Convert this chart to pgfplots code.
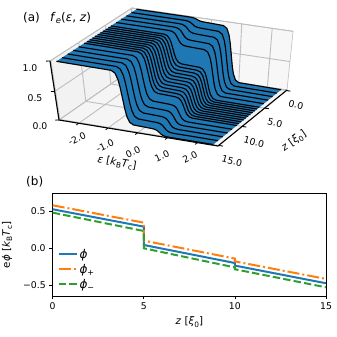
\documentclass[border=0pt]{standalone}
\usepackage{fontspec}
\setmainfont{DejaVu Sans}
\usepackage{pgfplots}
\usepackage{pgfplotstable}
\pgfplotsset{compat=1.18}
\definecolor{mblue}{HTML}{1F77B4}
\definecolor{morange}{HTML}{FF7F0E}
\definecolor{mgreen}{HTML}{2CA02C}
\definecolor{mgrid}{HTML}{BEBEBE}
\newcommand{\tickf}{\fontsize{9.3}{10}\selectfont}
\newcommand{\labf}{\fontsize{10.3}{11}\selectfont}
\newcommand{\subt}[1]{\raisebox{-.22em}{\fontsize{7.4}{8}\selectfont #1}}
\pgfplotstableread{
eps 0 1 2 3 4 5 5.25 5.5 5.75 6 6.25 6.5 6.75 7 7.25 7.5 7.75 8 8.25 8.5 8.75 9 9.25 9.5 9.75 10 11 12 13 14 15
-2.5 1 1 1 1 1 1 1 1 1 1 1 1 1 1 1 1 1 1 1 1 1 1 1 1 1 1 1 1 1 1 1
-0.75 1.000 .999 .999 .998 .998 .995 .995 .995 .995 .995 .995 .995 .995 .995 .995 .994 .994 .994 .994 .994 .994 .994 .994 .994 .994 .993 .993 .992 .992 .992 .991
-0.63 .998 .996 .994 .991 .989 .977 .977 .976 .976 .975 .975 .974 .974 .973 .973 .972 .972 .971 .971 .970 .970 .969 .969 .968 .968 .967 .964 .962 .960 .958 .956
-0.55 .992 .986 .979 .971 .965 .926 .925 .923 .922 .920 .918 .917 .915 .914 .912 .910 .909 .907 .906 .904 .902 .901 .899 .898 .896 .894 .883 .877 .870 .864 .858
-0.50 .985 .973 .961 .946 .934 .862 .859 .856 .853 .850 .847 .844 .841 .838 .835 .832 .829 .826 .823 .820 .817 .814 .811 .808 .805 .802 .781 .769 .757 .745 .733
-0.45 .975 .955 .935 .910 .890 .770 .765 .760 .755 .750 .745 .740 .735 .730 .725 .720 .715 .710 .705 .700 .695 .690 .685 .680 .675 .670 .635 .615 .595 .575 .555
-0.40 .965 .937 .909 .874 .846 .678 .671 .664 .657 .650 .643 .636 .629 .622 .615 .608 .601 .594 .587 .580 .573 .566 .559 .552 .545 .538 .489 .461 .433 .405 .377
-0.35 .958 .924 .891 .849 .815 .614 .605 .597 .588 .580 .572 .563 .555 .546 .538 .530 .521 .513 .504 .496 .488 .479 .471 .462 .454 .446 .387 .353 .320 .286 .252
-0.27 .953 .915 .877 .829 .791 .563 .554 .544 .535 .525 .516 .506 .497 .487 .478 .468 .459 .449 .440 .430 .421 .411 .402 .392 .383 .373 .307 .269 .231 .193 .155
-0.15 .951 .911 .871 .822 .782 .545 .535 .525 .515 .505 .495 .485 .475 .465 .456 .446 .436 .426 .416 .406 .396 .386 .376 .366 .357 .347 .277 .238 .198 .159 .119
0.42 .941 .901 .861 .812 .772 .535 .525 .515 .505 .495 .485 .475 .465 .455 .446 .436 .426 .416 .406 .396 .386 .376 .366 .356 .347 .337 .267 .228 .188 .149 .109
0.54 .903 .865 .827 .779 .741 .513 .504 .494 .485 .475 .466 .456 .447 .437 .428 .418 .409 .399 .390 .380 .371 .361 .352 .342 .333 .323 .257 .219 .181 .143 .105
0.62 .798 .764 .731 .689 .655 .454 .445 .437 .428 .420 .412 .403 .395 .386 .378 .370 .361 .353 .344 .336 .328 .319 .311 .302 .294 .286 .227 .193 .160 .126 .092
0.67 .665 .637 .609 .574 .546 .378 .371 .364 .357 .350 .343 .336 .329 .322 .315 .308 .301 .294 .287 .280 .273 .266 .259 .252 .245 .238 .189 .161 .133 .105 .077
0.72 .475 .455 .435 .410 .390 .270 .265 .260 .255 .250 .245 .240 .235 .230 .225 .220 .215 .210 .205 .200 .195 .190 .185 .180 .175 .170 .135 .115 .095 .075 .055
0.77 .285 .273 .261 .246 .234 .162 .159 .156 .153 .150 .147 .144 .141 .138 .135 .132 .129 .126 .123 .120 .117 .114 .111 .108 .105 .102 .081 .069 .057 .045 .033
0.82 .152 .146 .139 .131 .125 .086 .085 .083 .082 .080 .078 .077 .075 .074 .072 .070 .069 .067 .066 .064 .062 .061 .059 .058 .056 .054 .043 .037 .030 .024 .018
0.90 .048 .046 .044 .041 .039 .027 .027 .026 .026 .025 .025 .024 .024 .023 .023 .022 .022 .021 .021 .020 .020 .019 .019 .018 .018 .017 .014 .012 .010 .008 .006
1.02 .010 .009 .009 .008 .008 .005 .005 .005 .005 .005 .005 .005 .005 .005 .005 .005 .004 .004 .004 .004 .004 .004 .004 .004 .004 .004 .003 .003 .002 .002 .001
2.5 0 0 0 0 0 0 0 0 0 0 0 0 0 0 0 0 0 0 0 0 0 0 0 0 0 0 0 0 0 0 0
}\fcurves
\pgfplotstableread{
e z f
-2.5 0 1
-0.75 0 1.000
-0.63 0 .998
-0.55 0 .992
-0.50 0 .985
-0.45 0 .975
-0.40 0 .965
-0.35 0 .958
-0.27 0 .953
-0.15 0 .951
0.42 0 .941
0.54 0 .903
0.62 0 .798
0.67 0 .665
0.72 0 .475
0.77 0 .285
0.82 0 .152
0.90 0 .048
1.02 0 .010
2.5 0 0
2.5 15 0
1.02 15 .001
0.90 15 .006
0.82 15 .018
0.77 15 .033
0.72 15 .055
0.67 15 .077
0.62 15 .092
0.54 15 .105
0.42 15 .109
-0.15 15 .119
-0.27 15 .155
-0.35 15 .252
-0.40 15 .377
-0.45 15 .555
-0.50 15 .733
-0.55 15 .858
-0.63 15 .956
-0.75 15 .991
-2.5 15 1
}\fsheet
\pgfplotsset{
  /pgfplots/table/pj/.style={
    x expr={px(\thisrow{e},\thisrow{z},\thisrow{f})},
    y expr={py(\thisrow{e},\thisrow{z},\thisrow{f})},
    row sep=\\},
  gridl/.style={mgrid,line width=.9pt,forget plot},
  tickl/.style={black,line width=.9pt,forget plot},
}
\begin{document}
\begin{tikzpicture}[x=1pt,y=1pt]
\path[use as bounding box] (0,0) rectangle (337,337);
\begin{axis}[
  at={(0,0)},anchor=south west,scale only axis,width=337pt,height=337pt,
  xmin=0,xmax=337,ymin=0,ymax=337,y dir=reverse,axis lines=none,clip=false,
  declare function={
    uu(\e)=(\e+2.68)/5.36;
    vv(\z)=(15.15-\z)/15.3;
    dd(\u,\v,\w)=1-.0238*\u+.0611*\v-.063*\w;
    px(\e,\z,\f)=(59+153.81*uu(\e)+84.89*vv(\z)-12.15*\f)/dd(uu(\e),vv(\z),\f);
    py(\e,\z,\f)=(120+22.53*uu(\e)-49.17*vv(\z)-62.84*\f)/dd(uu(\e),vv(\z),\f);
  }]
% panes
\addplot[fill=black!4,draw=mgrid,line width=.6pt,forget plot] table[pj]{e z f\\ -2.68 -.15 0\\ 2.68 -.15 0\\ 2.68 15.15 0\\ -2.68 15.15 0\\ -2.68 -.15 0\\};
\addplot[fill=black!5,draw=mgrid,line width=.6pt,forget plot] table[pj]{e z f\\ -2.68 15.15 0\\ -2.68 -.15 0\\ -2.68 -.15 1\\ -2.68 15.15 1\\ -2.68 15.15 0\\};
\addplot[fill=black!3,draw=mgrid,line width=.6pt,forget plot] table[pj]{e z f\\ -2.68 -.15 0\\ 2.68 -.15 0\\ 2.68 -.15 1\\ -2.68 -.15 1\\ -2.68 -.15 0\\};
% grid
\pgfplotsinvokeforeach{-2,-1,0,1,2}{
  \addplot[gridl] table[pj]{e z f\\ #1 15.15 0\\ #1 -.15 0\\ #1 -.15 1\\};
  \addplot[tickl] table[pj]{e z f\\ #1 15.15 0\\ #1 15.6 0\\};
}
\pgfplotsinvokeforeach{0,5,10,15}{
  \addplot[gridl] table[pj]{e z f\\ 2.68 #1 0\\ -2.68 #1 0\\ -2.68 #1 1\\};
  \addplot[tickl] table[pj]{e z f\\ 2.68 #1 0\\ 2.82 #1 0\\};
}
\pgfplotsinvokeforeach{0,.5,1}{
  \addplot[gridl] table[pj]{e z f\\ -2.68 15.15 #1\\ -2.68 -.15 #1\\ 2.68 -.15 #1\\};
  \addplot[tickl] table[pj]{e z f\\ -2.68 15.15 #1\\ -2.78 15.3 #1\\};
}
% axis lines
\addplot[black,line width=1.1pt,forget plot] table[pj]{e z f\\ -2.68 15.15 1\\ -2.68 15.15 0\\ 2.68 15.15 0\\ 2.68 -.15 0\\};
% surface
\addplot[fill=mblue,draw=none,forget plot] table[x expr={px(\thisrow{e},\thisrow{z},\thisrow{f})},y expr={py(\thisrow{e},\thisrow{z},\thisrow{f})}]{\fsheet} -- cycle;
% constant-z curves
\pgfplotsinvokeforeach{0,1,2,3,4,5,5.5,6,6.5,7,7.5,8,8.5,9,9.5,10,11,12,13,14,15}{
  \addplot[black,line width=1.15pt,line join=round,forget plot] table[x expr={px(\thisrow{eps},#1,\thisrow{#1})},y expr={py(\thisrow{eps},#1,\thisrow{#1})}]{\fcurves};
}
% labels of panel (a)
\node[font=\fontsize{12}{13}\selectfont,anchor=west,inner sep=0pt] at (axis cs:23,18) {(a)};
\node[font=\fontsize{12}{13}\selectfont,anchor=west,inner sep=0pt] at (axis cs:50,18) {\textit{f}\raisebox{-.2em}{\fontsize{8.5}{9}\selectfont\textit{e}}(\textit{ε}, \textit{z})};
\node[font=\tickf,inner sep=0pt] at (axis cs:30,68) {1.0};
\node[font=\tickf,inner sep=0pt] at (axis cs:35,98) {0.5};
\node[font=\tickf,inner sep=0pt] at (axis cs:40,126) {0.0};
\node[font=\tickf,rotate=25,inner sep=0pt] at (axis cs:77,139) {-2.0};
\node[font=\tickf,rotate=25,inner sep=0pt] at (axis cs:105,146) {-1.0};
\node[font=\tickf,rotate=25,inner sep=0pt] at (axis cs:133,152) {0.0};
\node[font=\tickf,rotate=25,inner sep=0pt] at (axis cs:162,156) {1.0};
\node[font=\tickf,rotate=25,inner sep=0pt] at (axis cs:190,157) {2.0};
\node[font=\tickf,rotate=-15,inner sep=0pt] at (axis cs:296,105) {0.0};
\node[font=\tickf,rotate=-15,inner sep=0pt] at (axis cs:275,123) {5.0};
\node[font=\tickf,rotate=-15,inner sep=0pt] at (axis cs:254,142) {10.0};
\node[font=\tickf,rotate=-15,inner sep=0pt] at (axis cs:232,161) {15.0};
\node[font=\labf,rotate=-10,inner sep=0pt] at (axis cs:117,163) {\textit{ε} [\textit{k}\subt{B}\textit{T}\subt{c}]};
\node[font=\labf,rotate=35,inner sep=0pt] at (axis cs:294,141) {\textit{z} [\textit{ξ}\subt{0}]};
\node[font=\fontsize{12}{13}\selectfont,anchor=west,inner sep=0pt] at (axis cs:26,182) {(b)};
\end{axis}
\begin{axis}[
  at={(52.7pt,41pt)},anchor=south west,scale only axis,width=273.3pt,height=102.7pt,
  xmin=0,xmax=15,ymin=-0.648,ymax=0.747,
  xtick={0,5,10,15},xticklabels={0,5,10,15},
  ytick={-0.5,0,0.5},yticklabels={−0.5,0.0,0.5},
  tick align=outside,tick style={black,line width=.8pt},major tick length=3.5pt,
  xtick pos=bottom,ytick pos=left,
  axis line style={line width=.8pt},
  tick label style={font=\tickf},
  xlabel={\textit{z} [\textit{ξ}\subt{0}]},
  ylabel={e\textit{ϕ} [\textit{k}\subt{B}\textit{T}\subt{c}]},
  label style={font=\labf},
  xlabel style={at={(axis description cs:0.5,-0.17)},anchor=north},
  ylabel style={at={(axis description cs:-0.135,0.5)},anchor=south},
  legend style={draw=none,fill=none,at={(0.006,0.02)},anchor=south west,font=\fontsize{12}{13}\selectfont,row sep=.5pt},
  legend cell align=left,
  legend image code/.code={\draw[#1,line width=2pt] (0pt,0pt)--(18pt,0pt);},
]
\addplot[color=mblue,line width=2pt] coordinates {(0,.53)(5,.294)(5,.045)(10,-.2)(10,-.235)(15,-.475)};
\addlegendentry{\textit{ϕ}}
\addplot[color=morange,line width=2pt,dash pattern={on 12pt off 3pt on 2pt off 3pt}] coordinates {(0,.584)(5,.348)(5,.104)(10,-.14)(10,-.178)(15,-.416)};
\addlegendentry{\textit{ϕ}\raisebox{-.2em}{\fontsize{8}{9}\selectfont +}}
\addplot[color=mgreen,line width=2pt,dash pattern={on 7.4pt off 3.2pt}] coordinates {(0,.484)(5,.235)(5,0)(10,-.26)(10,-.285)(15,-.53)};
\addlegendentry{\textit{ϕ}\raisebox{-.2em}{\fontsize{8}{9}\selectfont −}}
\end{axis}
\end{tikzpicture}
\end{document}
